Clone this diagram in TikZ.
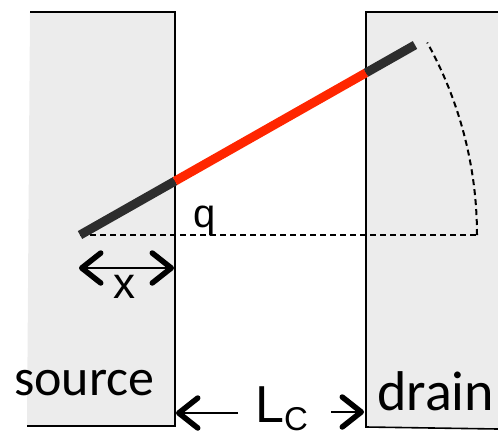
\documentclass[tikz,border=0pt]{standalone}
\usepackage{fontspec}
\setmainfont{Carlito}
\newfontfamily\labelfont{Liberation Sans}
\usetikzlibrary{arrows.meta}
\definecolor{padgray}{RGB}{236,236,236}
\definecolor{rodred}{RGB}{255,38,0}
\definecolor{rodblack}{RGB}{45,45,45}
\tikzset{
  padfill/.style={fill=padgray, draw=none},
  padedge/.style={line width=1.6, draw=black},
  rodpart/.style={line width=9, draw=rodblack},
  guide/.style={line width=2, dash pattern=on 6 off 4},
  barbs/.style={line width=2.2, {Straight Barb[length=19pt,width=30pt,line width=5.5pt,round]}-{Straight Barb[length=19pt,width=30pt,line width=5.5pt,round]}},
  barbend/.style={line width=2.2, -{Straight Barb[length=19pt,width=30pt,line width=5.5pt,round]}},
}

\begin{document}
\begin{tikzpicture}[x=1pt,y=1pt,yscale=-1]
\useasboundingbox (0,0) rectangle (498,437);

%Shape: Source pad
\fill [padfill] (30,12) -- (175,12) -- (175,426) -- (27,426) -- cycle ;
\draw [padedge] (30,12) -- (175,12) -- (175,426) -- (27,426) ;
%Shape: Drain pad
\fill [padfill] (366,12) -- (498,12) -- (498,429) -- (366,427) -- cycle ;
\draw [padedge] (498,12) -- (366,12) -- (366,427) -- (498,429) ;

%Coordinates of the rod
\coordinate (pivot) at (80,235) ;
\coordinate (rodtip) at (415,45) ;
\coordinate (srcedge) at (175,181.1) ;
\coordinate (drnedge) at (366,72.8) ;
\coordinate (arcstart) at (477,235) ;

%Dashed Lines
\draw [guide] (pivot) -- (arcstart) ;
\draw [guide] (arcstart) arc [start angle=0, end angle=-29, radius=397] ;

%Straight Lines: rod
\draw [rodpart] (pivot) -- (srcedge) ;
\draw [rodpart, draw=rodred] (srcedge) -- (drnedge) ;
\draw [rodpart] (drnedge) -- (rodtip) ;

%Straight Lines: x arrow
\coordinate (xleft) at (79,268) ;
\coordinate (xright) at (174,268) ;
\draw [barbs] (xleft) -- (xright) ;

% Text Node
\node (srclabel) [anchor=base west, inner sep=0pt] at (14,395) {\fontsize{52}{60}\selectfont source};
% Text Node
\node (drnlabel) [anchor=base west, inner sep=0pt] at (377,410) {\fontsize{56}{64}\selectfont drain};
% Text Node
\node (qlabel) [inner sep=0pt] at (205,221) {\labelfont\fontsize{40}{48}\selectfont q};
% Text Node
\node (xlabel) [inner sep=0pt] at (124,287) {\labelfont\fontsize{44}{52}\selectfont x};
% Text Node
\node (lclabel) [anchor=base west, inner sep=0pt] at (255,422) {\labelfont\fontsize{52}{60}\selectfont L\raisebox{-8pt}{\fontsize{33}{38}\selectfont C}};

%Straight Lines: L_C arrows
\coordinate (lcleft) at (176,413) ;
\coordinate (lcright) at (364,412) ;
\draw [barbend] (238,413) -- (lcleft) ;
\draw [barbend] (331,412) -- (lcright) ;

\end{tikzpicture}
\end{document}
